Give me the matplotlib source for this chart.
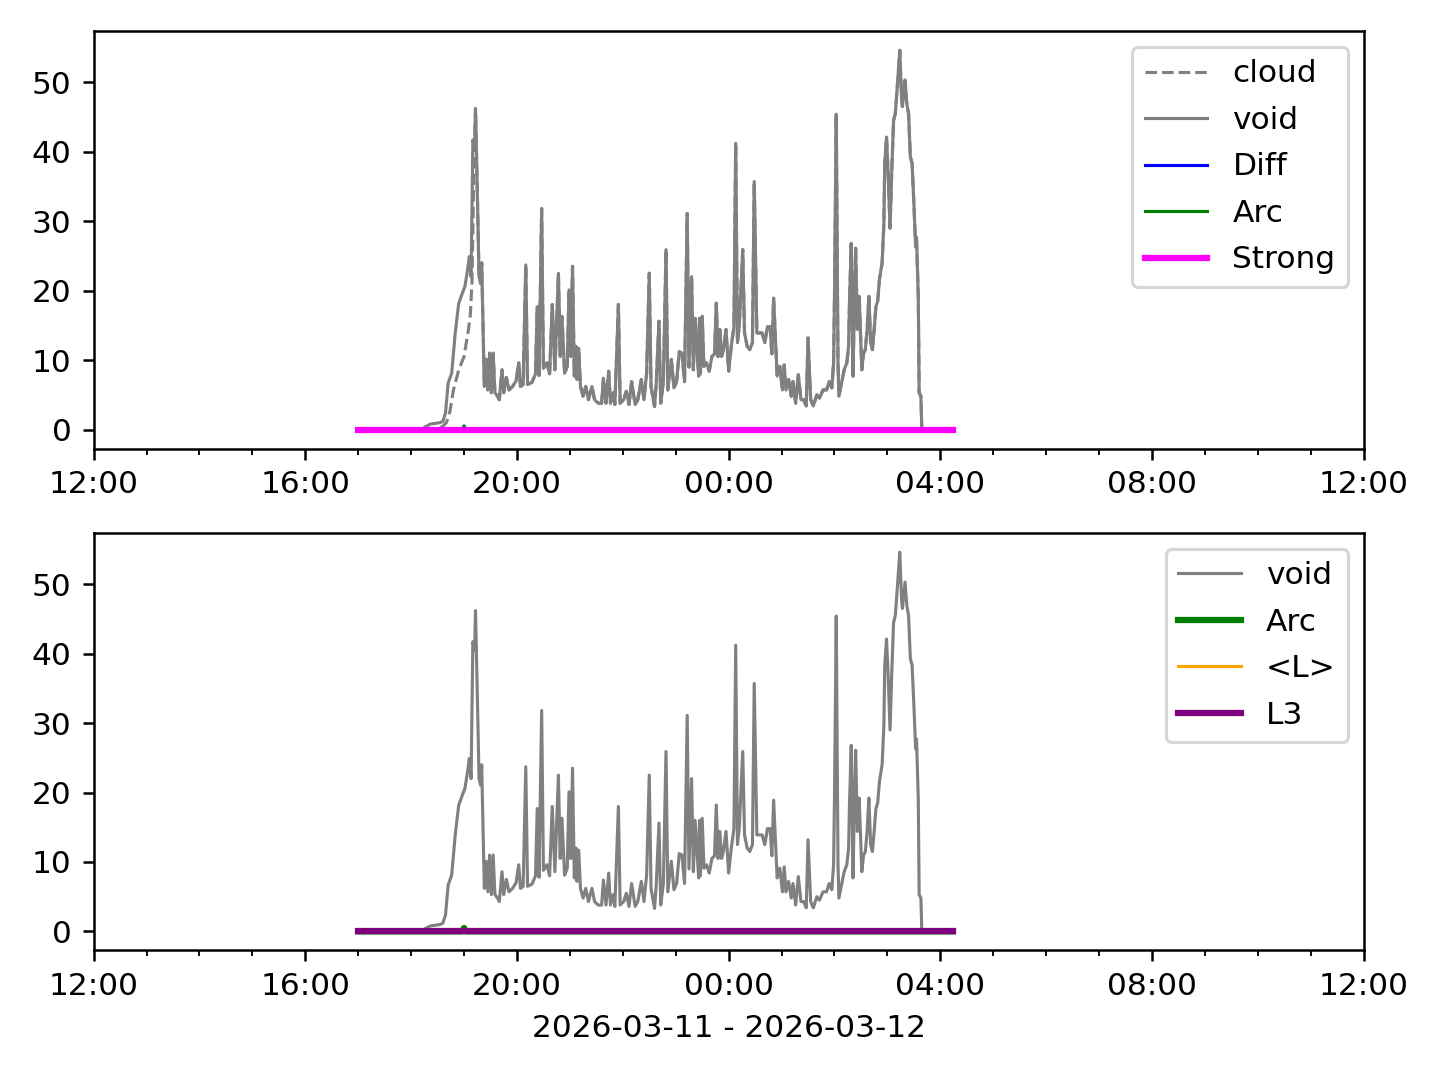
import datetime as dt
import matplotlib
matplotlib.use("Agg")
import matplotlib.pyplot as plt
import matplotlib.dates as mdates
from matplotlib.ticker import MultipleLocator

#%%
# data (times are HH:MM, night of 2026-03-11 -> 12)
void_t = ["17:00", "18:12", "18:16", "18:22", "18:28", "18:33", "18:36", "18:39",
          "18:42", "18:46", "18:50", "18:54", "18:58", "19:01", "19:04", "19:06",
          "19:08", "19:10", "19:12", "19:13", "19:15", "19:17", "19:19", "19:20",
          "19:23", "19:25", "19:27", "19:29", "19:31", "19:33", "19:35", "19:38",
          "19:40", "19:43", "19:45", "19:48", "19:51", "19:55", "19:59", "20:02",
          "20:04", "20:07", "20:10", "20:12", "20:17", "20:21", "20:23", "20:25",
          "20:28", "20:30", "20:34", "20:37", "20:40", "20:43", "20:47", "20:49",
          "20:51", "20:54", "20:57", "20:59", "21:01", "21:03", "21:05", "21:07",
          "21:08", "21:10", "21:12", "21:15", "21:18", "21:21", "21:25", "21:28",
          "21:32", "21:36", "21:38", "21:41", "21:44", "21:46", "21:49", "21:51",
          "21:55", "21:57", "22:01", "22:04", "22:07", "22:10", "22:14", "22:17",
          "22:21", "22:24", "22:27", "22:30", "22:32", "22:36", "22:38", "22:41",
          "22:43", "22:46", "22:49", "22:51", "22:55", "22:58", "23:01", "23:04",
          "23:07", "23:10", "23:13", "23:15", "23:18", "23:20", "23:22", "23:26",
          "23:27", "23:28", "23:30", "23:32", "23:35", "23:38", "23:41", "23:44",
          "23:46", "23:48", "23:50", "23:52", "23:54", "23:57", "00:00", "00:03",
          "00:06", "00:08", "00:10", "00:12", "00:16", "00:18", "00:21", "00:24",
          "00:27", "00:29", "00:32", "00:35", "00:38", "00:41", "00:44", "00:47",
          "00:49", "00:51", "00:55", "00:58", "01:01", "01:03", "01:05", "01:08",
          "01:11", "01:13", "01:16", "01:19", "01:22", "01:25", "01:28", "01:30",
          "01:33", "01:36", "01:40", "01:43", "01:47", "01:51", "01:54", "01:57",
          "01:59", "02:00", "02:02", "02:04", "02:05", "02:08", "02:11", "02:14",
          "02:16", "02:17", "02:19", "02:21", "02:23", "02:24", "02:26", "02:28",
          "02:31", "02:33", "02:35", "02:37", "02:39", "02:41", "02:43", "02:45",
          "02:47", "02:49", "02:51", "02:54", "02:56", "02:57", "02:59", "03:01",
          "03:03", "03:05", "03:07", "03:09", "03:12", "03:14", "03:16", "03:17",
          "03:20", "03:22", "03:24", "03:26", "03:28", "03:30", "03:32", "03:33",
          "03:35", "03:36", "03:38", "03:39", "04:14"]
void = [0.0, 0.0, 0.4, 0.8, 0.9, 1.0, 1.2, 2.4,
        6.7, 8.1, 13.9, 18.2, 19.6, 20.6, 23.0, 24.9,
        22.0, 41.7, 40.5, 46.2, 34.5, 22.0, 21.0, 24.0,
        6.2, 10.1, 5.7, 11.0, 5.3, 11.0, 5.3, 4.8,
        4.3, 8.6, 5.3, 7.5, 5.7, 6.2, 7.0, 9.6,
        6.2, 6.5, 23.7, 6.5, 6.8, 8.0, 17.7, 7.8,
        31.8, 8.8, 9.6, 8.0, 18.0, 8.6, 22.5, 10.5,
        16.3, 8.1, 9.1, 20.1, 10.5, 23.5, 7.7, 12.0,
        7.2, 11.7, 6.2, 4.8, 6.2, 4.3, 6.2, 4.3,
        3.8, 3.8, 7.4, 3.8, 8.4, 3.8, 5.3, 3.6,
        18.0, 3.8, 4.3, 5.5, 3.6, 6.9, 3.6, 4.3,
        7.2, 4.3, 8.1, 22.5, 6.2, 3.3, 6.9, 15.6,
        3.8, 6.9, 25.9, 5.7, 10.1, 6.0, 6.9, 11.2,
        11.0, 6.9, 31.1, 9.0, 22.0, 8.6, 16.0, 7.7,
        16.0, 8.0, 16.3, 9.1, 9.6, 8.4, 10.5, 10.9,
        18.2, 10.5, 14.4, 10.5, 11.5, 14.4, 8.4, 12.0,
        14.8, 41.2, 12.5, 14.8, 25.9, 13.9, 12.0, 11.5,
        12.5, 35.7, 13.9, 13.9, 13.9, 12.5, 14.8, 14.8,
        10.9, 18.9, 7.7, 9.1, 5.7, 9.3, 5.7, 7.2,
        4.8, 6.9, 3.8, 7.9, 4.3, 4.3, 3.4, 13.2,
        4.3, 3.4, 5.0, 4.5, 5.7, 5.7, 6.9, 6.0,
        9.6, 19.2, 45.4, 9.6, 4.8, 6.7, 8.6, 9.6,
        12.0, 18.2, 26.8, 7.7, 21.1, 26.1, 14.4, 19.2,
        8.6, 11.0, 11.5, 14.4, 19.2, 12.5, 11.5, 14.4,
        17.7, 18.5, 21.6, 24.0, 29.7, 38.3, 42.1, 36.4,
        29.0, 37.4, 44.5, 45.5, 50.8, 54.6, 47.9, 46.5,
        50.3, 46.9, 45.5, 39.3, 38.3, 32.6, 26.3, 27.7,
        19.2, 5.3, 4.8, 0.0, 0.0]

# cloud lags void on the first rise, then follows it from 19:13
cloud_t_early = ["17:00", "18:30", "18:36", "18:40", "18:44", "18:48", "18:54",
                 "19:00", "19:05", "19:07", "19:09", "19:11"]
cloud_early = [0.0, 0.0, 0.5, 1.0, 2.6, 5.7, 8.6, 10.5, 14.4, 16.3, 21.1, 36.9]
cloud_join = "19:13"

diff_t = ["17:00", "18:58", "19:00", "19:02", "04:14"]
diff = [0.0, 0.0, 0.5, 0.0, 0.0]
arc_t = ["17:00", "18:58", "19:00", "19:02", "04:14"]
arc = [0.0, 0.0, 0.5, 0.0, 0.0]
flat_t = ["17:00", "04:14"]
strong = [0.0, 0.0]
mean_l = [0.0, 0.0]
l3 = [0.0, 0.0]

#%%
day0 = dt.datetime(2026, 3, 11)

def to_dt(hhmm):
    h, m = map(int, hhmm.split(":"))
    d = day0 + dt.timedelta(hours=h, minutes=m)
    if h < 12:
        d = d + dt.timedelta(days=1)
    return d

tv = [to_dt(s) for s in void_t]
k = void_t.index(cloud_join)
tc = [to_dt(s) for s in cloud_t_early] + tv[k:]
cloud = cloud_early + void[k:]

#%%
fig, (ax1, ax2) = plt.subplots(2, 1, figsize=(6.4, 4.8), dpi=225)

ax1.plot(tc, cloud, color="gray", ls="--", lw=1, label="cloud")
ax1.plot(tv, void, color="gray", lw=1, label="void")
ax1.plot([to_dt(s) for s in diff_t], diff, color="blue", lw=1, label="Diff")
ax1.plot([to_dt(s) for s in arc_t], arc, color="green", lw=1, label="Arc")
ax1.plot([to_dt(s) for s in flat_t], strong, color="magenta", lw=2, label="Strong")
ax1.legend(loc="upper right", labelspacing=0.56)

ax2.plot(tv, void, color="gray", lw=1, label="void")
ax2.plot([to_dt(s) for s in arc_t], arc, color="green", lw=2, label="Arc")
ax2.plot([to_dt(s) for s in flat_t], mean_l, color="orange", lw=1, label="<L>")
ax2.plot([to_dt(s) for s in flat_t], l3, color="purple", lw=2, label="L3")
ax2.legend(loc="upper right", labelspacing=0.56)
ax2.set_xlabel("2026-03-11 - 2026-03-12")

for ax in (ax1, ax2):
    ax.set_xlim(day0 + dt.timedelta(hours=12), day0 + dt.timedelta(hours=36))
    ax.xaxis.set_major_locator(mdates.HourLocator(byhour=[0, 4, 8, 12, 16, 20]))
    ax.xaxis.set_minor_locator(mdates.HourLocator())
    ax.xaxis.set_major_formatter(mdates.DateFormatter("%H:%M"))
    ax.yaxis.set_major_locator(MultipleLocator(10))

plt.subplots_adjust(left=0.065, right=0.947, top=0.971, bottom=0.12, hspace=0.203)
plt.savefig("out.png")
